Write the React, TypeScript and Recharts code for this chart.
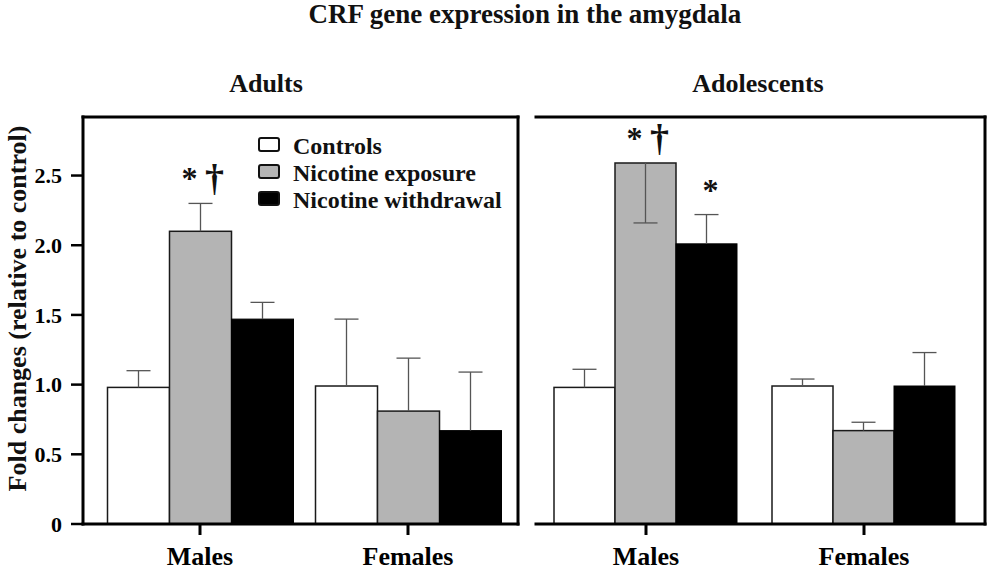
import React from "react";
import { BarChart, Bar, XAxis, YAxis, Legend, Label } from "recharts";

const FONT = '"Liberation Serif", "Times New Roman", serif';

// values
const groups = ["Males", "Females"];
const seriesNames = ["Controls", "Nicotine exposure", "Nicotine withdrawal"];
const yTicks = [0, 0.5, 1, 1.5, 2, 2.5];

const adultControls = [0.98, 0.99];
const adultControlsErr = [[0, 0.12], [0, 0.48]];
const adultExposure = [2.1, 0.81];
const adultExposureErr = [[0, 0.2], [0, 0.38]];
const adultWithdrawal = [1.47, 0.67];
const adultWithdrawalErr = [[0, 0.12], [0, 0.42]];
const adultExposureMarks = ["*†", ""];
const adultWithdrawalMarks = ["", ""];

const adolControls = [0.98, 0.99];
const adolControlsErr = [[0, 0.13], [0, 0.05]];
const adolExposure = [2.59, 0.67];
const adolExposureErr = [[0.43, 0], [0, 0.06]];
const adolWithdrawal = [2.01, 0.99];
const adolWithdrawalErr = [[0, 0.21], [0, 0.24]];
const adolExposureMarks = ["*†", ""];
const adolWithdrawalMarks = ["*", ""];

const buildRows = (
  c: number[], cErr: number[][],
  e: number[], eErr: number[][],
  w: number[], wErr: number[][],
  eMarks: string[], wMarks: string[]
) =>
  groups.map((group, i) => ({
    group,
    controls: c[i],
    controlsErr: cErr[i],
    exposure: e[i],
    exposureErr: eErr[i],
    withdrawal: w[i],
    withdrawalErr: wErr[i],
    exposureMark: eMarks[i],
    withdrawalMark: wMarks[i],
  }));

const adultRows = buildRows(
  adultControls, adultControlsErr, adultExposure, adultExposureErr,
  adultWithdrawal, adultWithdrawalErr, adultExposureMarks, adultWithdrawalMarks
);
const adolRows = buildRows(
  adolControls, adolControlsErr, adolExposure, adolExposureErr,
  adolWithdrawal, adolWithdrawalErr, adolExposureMarks, adolWithdrawalMarks
);

const DOMAIN: [number, number] = [0, 2.92];

// bar + SEM whisker + significance marks
const makeShape = (valueKey: string, errKey: string, markKey?: string) => (props: any) => {
  const { x, y, width, height, fill, stroke, strokeWidth, payload } = props;
  const value = payload[valueKey];
  const k = value ? height / value : 0;
  const [low, high] = payload[errKey];
  const cx = x + width / 2;
  const cap = 12;
  const top = y - high * k;
  const bottom = y + low * k;
  const mark: string = markKey ? payload[markKey] || "" : "";
  const base = high > 0 ? top : y;
  const hasDagger = mark.includes("†");
  return (
    <g>
      <rect x={x} y={y} width={width} height={height} fill={fill} stroke={stroke} strokeWidth={strokeWidth} />
      {high > 0 && (
        <g stroke="#555" strokeWidth={1.3}>
          <line x1={cx} y1={y} x2={cx} y2={top} />
          <line x1={cx - cap} y1={top} x2={cx + cap} y2={top} />
        </g>
      )}
      {low > 0 && (
        <g stroke="#555" strokeWidth={1.3}>
          <line x1={cx} y1={y} x2={cx} y2={bottom} />
          <line x1={cx - cap} y1={bottom} x2={cx + cap} y2={bottom} />
        </g>
      )}
      {mark.includes("*") && (
        <text x={hasDagger ? cx - 11 : cx + 4} y={base - 14} textAnchor="middle"
          fontFamily={FONT} fontWeight={700} fontSize={32} fill="#111">*</text>
      )}
      {hasDagger && (
        <text x={cx + 14} y={base - 12} textAnchor="middle"
          fontFamily={FONT} fontWeight={700} fontSize={38} fill="#111">†</text>
      )}
    </g>
  );
};

const renderLegend = (props: any) => {
  const { payload } = props;
  return (
    <div style={{ fontFamily: FONT, fontWeight: 700, fontSize: 24, lineHeight: "27px", color: "#111" }}>
      {payload.map((entry: any) => (
        <div key={entry.value} style={{ display: "flex", alignItems: "flex-start", whiteSpace: "nowrap" }}>
          <span
            style={{
              display: "inline-block",
              width: 22,
              height: 15,
              marginTop: 4,
              marginRight: 13,
              boxSizing: "border-box",
              background: entry.color ?? entry.payload?.fill,
              border: "2px solid #111",
              borderRadius: 3,
            }}
          />
          {entry.value}
        </div>
      ))}
    </div>
  );
};

const frame = { stroke: "#000", strokeWidth: 3, strokeLinecap: "square" as const };
const tickText = { fill: "#000", fontSize: 26, fontWeight: 700, fontFamily: FONT };

const renderBars = () => [
  <Bar key="c" dataKey="controls" name={seriesNames[0]} fill="#ffffff" stroke="#1a1a1a" strokeWidth={1.5}
    shape={makeShape("controls", "controlsErr")} isAnimationActive={false} />,
  <Bar key="e" dataKey="exposure" name={seriesNames[1]} fill="#b4b4b4" stroke="#1a1a1a" strokeWidth={1.5}
    shape={makeShape("exposure", "exposureErr", "exposureMark")} isAnimationActive={false} />,
  <Bar key="w" dataKey="withdrawal" name={seriesNames[2]} fill="#000000" stroke="#000" strokeWidth={1}
    shape={makeShape("withdrawal", "withdrawalErr", "withdrawalMark")} isAnimationActive={false} />,
];

// top and right edges of each panel frame
const frameAxes = () => [
  <XAxis key="ft" xAxisId="top" type="number" orientation="top" height={1} domain={[0, 1]} ticks={[0, 1]}
    tick={false} tickLine={false} axisLine={frame} />,
  <YAxis key="fr" yAxisId="right" type="number" orientation="right" width={1} domain={DOMAIN} ticks={yTicks}
    tick={false} tickLine={false} axisLine={frame} />,
];

const panelTitle: React.CSSProperties = {
  position: "absolute",
  fontFamily: FONT,
  fontWeight: 700,
  fontSize: 26,
  lineHeight: "26px",
  color: "#111",
  whiteSpace: "nowrap",
  transform: "translateX(-50%)",
};

export default function App() {
  return (
    <div style={{ position: "absolute", left: 0, top: 0, width: 992, height: 577, background: "#fff" }}>
      <div style={{ ...panelTitle, left: 525, top: 1, fontSize: 27 }}>CRF gene expression in the amygdala</div>
      <div style={{ ...panelTitle, left: 266, top: 71 }}>Adults</div>
      <div style={{ ...panelTitle, left: 758, top: 71 }}>Adolescents</div>

      <div style={{ position: "absolute", left: 0, top: 0 }}>
        <BarChart width={530} height={577} data={adultRows} barGap={0} barCategoryGap={11.5}
          margin={{ top: 116, right: 11, bottom: 0, left: 0 }}>
          <XAxis dataKey="group" height={53} padding={{ left: 13, right: 6 }} axisLine={frame}
            tickLine={{ stroke: "#000", strokeWidth: 3 }} tickSize={11} tickMargin={12} tick={tickText} />
          <YAxis width={83} domain={DOMAIN} ticks={yTicks} axisLine={frame}
            tickLine={{ stroke: "#000", strokeWidth: 2.5 }} tickSize={12} tickMargin={9}
            tick={{ ...tickText, fontSize: 22 }}
            tickFormatter={(v: number) => (v === 0 ? "0" : v.toFixed(1))}>
            <Label
              content={(p: any) => {
                const vb = p.viewBox || { x: 0, y: 117, width: 83, height: 407 };
                const cx = vb.x + 17;
                const cy = vb.y + vb.height / 2 - 12;
                return (
                  <text x={cx} y={cy} transform={`rotate(-90, ${cx}, ${cy})`} textAnchor="middle"
                    dominantBaseline="central" fontFamily={FONT} fontWeight={700} fontSize={26} fill="#111">
                    Fold changes (relative to control)
                  </text>
                );
              }}
            />
          </YAxis>
          {frameAxes()}
          <Legend layout="vertical" align="center" verticalAlign="middle" content={renderLegend}
            wrapperStyle={{ left: 258, top: 133, width: 260 }} />
          {renderBars()}
        </BarChart>
      </div>

      <div style={{ position: "absolute", left: 530, top: 0 }}>
        <BarChart width={462} height={577} data={adolRows} barGap={0} barCategoryGap={17}
          margin={{ top: 116, right: 6, bottom: 0, left: 6 }}>
          <XAxis dataKey="group" height={53} padding={{ left: 1, right: 12 }} axisLine={frame}
            tickLine={{ stroke: "#000", strokeWidth: 3 }} tickSize={11} tickMargin={12} tick={tickText} />
          <YAxis width={0} domain={DOMAIN} ticks={yTicks} tick={false} tickLine={false} axisLine={frame} />
          {frameAxes()}
          {renderBars()}
        </BarChart>
      </div>
    </div>
  );
}
